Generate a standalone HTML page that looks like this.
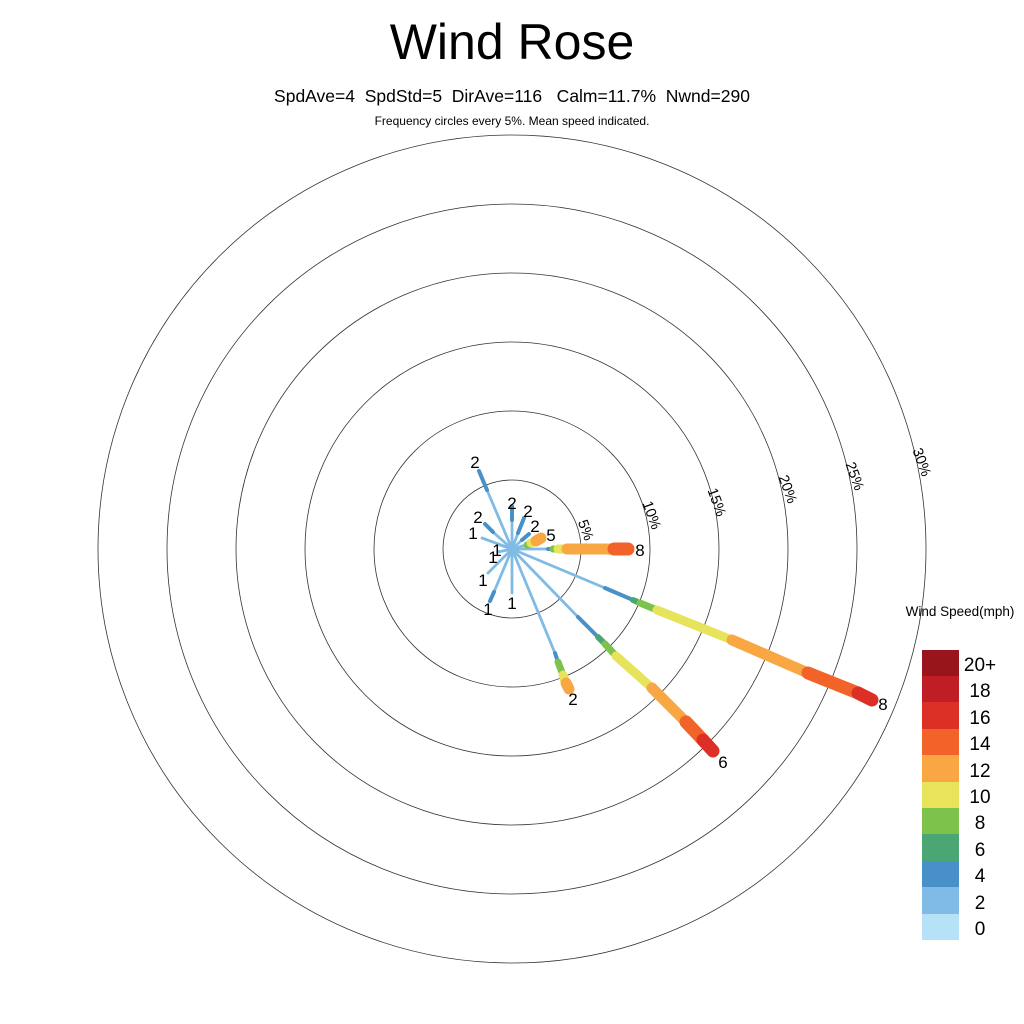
<!DOCTYPE html>
<html><head><meta charset="utf-8"><style>
html,body{margin:0;padding:0;background:#fff;width:1024px;height:1024px;overflow:hidden}
svg{display:block;font-family:"Liberation Sans",sans-serif}
</style></head><body>
<svg width="1024" height="1024" viewBox="0 0 1024 1024">
<text x="512" y="59" font-size="50" text-anchor="middle">Wind Rose</text>
<text x="512" y="102" font-size="17.5" text-anchor="middle" xml:space="preserve">SpdAve=4  SpdStd=5  DirAve=116   Calm=11.7%  Nwnd=290</text>
<text x="512" y="125" font-size="12" text-anchor="middle">Frequency circles every 5%. Mean speed indicated.</text>
<g fill="none" stroke="#333" stroke-width="0.8">
<circle cx="512" cy="549" r="69"/><circle cx="512" cy="549" r="138"/><circle cx="512" cy="549" r="207"/>
<circle cx="512" cy="549" r="276"/><circle cx="512" cy="549" r="345"/><circle cx="512" cy="549" r="414"/>
</g>
<g font-size="14.5" text-anchor="middle">
<text transform="translate(586,530) rotate(70)" dy="5">5%</text>
<text transform="translate(652,515) rotate(70)" dy="5">10%</text>
<text transform="translate(717,502) rotate(70)" dy="5">15%</text>
<text transform="translate(788,489) rotate(70)" dy="5">20%</text>
<text transform="translate(855,476) rotate(70)" dy="5">25%</text>
<text transform="translate(922,462) rotate(70)" dy="5">30%</text>
</g>
<g stroke-linecap="round" fill="none">
<g stroke="#80bbe5" stroke-width="2.8">
<line x1="512" y1="549" x2="605" y2="588"/>
<line x1="512" y1="549" x2="578" y2="617"/>
<line x1="512" y1="549" x2="557" y2="658"/>
<line x1="512" y1="549" x2="550" y2="549"/>
<line x1="512" y1="549" x2="526" y2="545"/>
<line x1="512" y1="549" x2="487" y2="490"/>
<line x1="512" y1="549" x2="512" y2="520"/>
<line x1="512" y1="549" x2="518" y2="533"/>
<line x1="512" y1="549" x2="522" y2="540"/>
<line x1="512" y1="549" x2="493" y2="532"/>
<line x1="512" y1="549" x2="482" y2="538"/>
<line x1="512" y1="549" x2="500" y2="545"/>
<line x1="512" y1="549" x2="498" y2="552"/>
<line x1="512" y1="549" x2="488" y2="573"/>
<line x1="512" y1="549" x2="494" y2="592"/>
<line x1="512" y1="549" x2="512" y2="593"/>
</g>
<g stroke="#4890c8" stroke-width="4">
<line x1="487" y1="490" x2="479" y2="471"/>
<line x1="512" y1="520" x2="512" y2="506"/>
<line x1="518" y1="533" x2="524" y2="518"/>
<line x1="522" y1="540" x2="529" y2="534"/>
<line x1="493" y1="532" x2="485" y2="524"/>
<line x1="494" y1="592" x2="490" y2="601"/>
<line x1="605" y1="588" x2="633" y2="600"/>
<line x1="578" y1="617" x2="598" y2="637"/>
<line x1="555" y1="653" x2="558" y2="662"/>
<line x1="548" y1="549" x2="553" y2="549"/>
</g>
<g stroke="#4aa673" stroke-width="6"><line x1="633" y1="600" x2="640" y2="603"/><line x1="598" y1="637" x2="605" y2="644"/></g>
<g stroke="#7dc24a" stroke-width="7">
<line x1="640" y1="603" x2="657" y2="610"/><line x1="605" y1="644" x2="616" y2="656"/>
<line x1="558" y1="662" x2="563" y2="675"/><line x1="553" y1="549" x2="558" y2="549"/>
<line x1="527" y1="545" x2="530" y2="544"/>
</g>
<g stroke="#e7e35a" stroke-width="9">
<line x1="657" y1="610" x2="732" y2="640"/><line x1="616" y1="656" x2="652" y2="688"/>
<line x1="563" y1="675" x2="565" y2="681"/><line x1="558" y1="549" x2="564" y2="549"/>
<line x1="531" y1="543" x2="535" y2="541"/>
</g>
<g stroke="#f9a743" stroke-width="11">
<line x1="732" y1="640" x2="808" y2="673"/><line x1="652" y1="688" x2="686" y2="722"/>
<line x1="566" y1="683" x2="569" y2="689"/><line x1="567" y1="549" x2="612" y2="549"/>
<line x1="536" y1="541" x2="541" y2="538"/>
</g>
<g stroke="#f26329" stroke-width="13">
<line x1="808" y1="673" x2="858" y2="693"/><line x1="686" y1="722" x2="703" y2="740"/>
<line x1="614" y1="549" x2="628" y2="549"/>
</g>
<g stroke="#dc3027" stroke-width="13">
<line x1="858" y1="693" x2="872" y2="700"/><line x1="703" y1="740" x2="713" y2="751"/>
</g>
</g>
<g font-size="17" text-anchor="middle">
<text x="640" y="556">8</text>
<text x="883" y="710">8</text>
<text x="723" y="768">6</text>
<text x="573" y="705">2</text>
<text x="551" y="541">5</text>
<text x="475" y="468">2</text>
<text x="512" y="509">2</text>
<text x="528" y="517">2</text>
<text x="535" y="532">2</text>
<text x="478" y="523">2</text>
<text x="473" y="539">1</text>
<text x="497" y="556">1</text>
<text x="493" y="563">1</text>
<text x="483" y="586">1</text>
<text x="488" y="615">1</text>
<text x="512" y="609">1</text>
</g>
<text x="960" y="616" font-size="13.5" text-anchor="middle">Wind Speed(mph)</text>
<g>
<rect x="922" y="650" width="37" height="27" fill="#98161b"/>
<rect x="922" y="676" width="37" height="27" fill="#be1e24"/>
<rect x="922" y="702" width="37" height="27" fill="#dc3027"/>
<rect x="922" y="729" width="37" height="27" fill="#f26329"/>
<rect x="922" y="755" width="37" height="27" fill="#f9a743"/>
<rect x="922" y="782" width="37" height="27" fill="#e7e35a"/>
<rect x="922" y="808" width="37" height="27" fill="#7dc24a"/>
<rect x="922" y="834" width="37" height="27" fill="#4aa673"/>
<rect x="922" y="861" width="37" height="27" fill="#4890c8"/>
<rect x="922" y="887" width="37" height="27" fill="#80bbe5"/>
<rect x="922" y="914" width="37" height="26" fill="#b5e2f6"/>
</g>
<g font-size="19" text-anchor="middle">
<text x="980" y="671">20+</text><text x="980" y="697">18</text><text x="980" y="724">16</text>
<text x="980" y="750">14</text><text x="980" y="777">12</text><text x="980" y="803">10</text>
<text x="980" y="829">8</text><text x="980" y="856">6</text><text x="980" y="882">4</text>
<text x="980" y="909">2</text><text x="980" y="935">0</text>
</g>
</svg>
</body></html>
